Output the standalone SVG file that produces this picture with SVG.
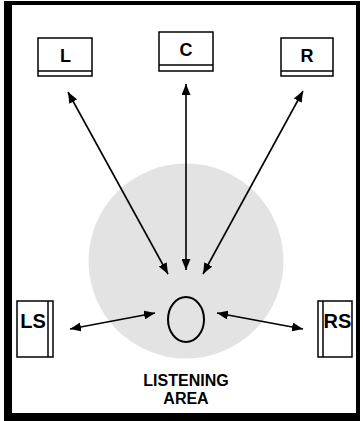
<svg xmlns="http://www.w3.org/2000/svg" width="363" height="421" viewBox="0 0 363 421">
  <defs>
    <marker id="head" viewBox="0 0 11 9" refX="11" refY="4.5" markerWidth="11" markerHeight="9" markerUnits="userSpaceOnUse" orient="auto-start-reverse">
      <path d="M0,0 L11,4.5 L0,9 Z" fill="#000"/>
    </marker>
  </defs>
  <style>
    .spk { fill: #fff; stroke: #000; stroke-width: 1.5; }
    .lbl { font-family: "Liberation Sans", Arial, sans-serif; font-weight: bold; fill: #000; text-anchor: middle; }
    .link { stroke: #000; stroke-width: 1.6; fill: none; marker-start: url(#head); marker-end: url(#head); }
  </style>

  <!-- room frame: heavy left/bottom edges, lighter top/right -->
  <rect x="4" y="1" width="356" height="420" fill="#000"/>
  <rect x="12" y="5" width="344" height="408" fill="#fff"/>

  <!-- listening zone -->
  <circle id="listening-zone" cx="186" cy="261" r="97.5" fill="#e3e3e3"/>

  <g id="speaker-L">
    <rect class="spk" x="38" y="38" width="54" height="38"/>
    <line x1="38" y1="71" x2="92" y2="71" stroke="#000" stroke-width="1.5"/>
    <text class="lbl" x="65.5" y="62" font-size="18">L</text>
  </g>
  <g id="speaker-C">
    <rect class="spk" x="159" y="32" width="54" height="39"/>
    <line x1="159" y1="65" x2="213" y2="65" stroke="#000" stroke-width="1.5"/>
    <text class="lbl" x="186" y="56" font-size="18">C</text>
  </g>
  <g id="speaker-R">
    <rect class="spk" x="281" y="38" width="52" height="38"/>
    <line x1="281" y1="71" x2="333" y2="71" stroke="#000" stroke-width="1.5"/>
    <text class="lbl" x="307" y="62" font-size="18">R</text>
  </g>
  <g id="speaker-LS">
    <rect class="spk" x="17" y="301" width="36" height="56"/>
    <line x1="48" y1="301" x2="48" y2="357" stroke="#000" stroke-width="1.5"/>
    <text class="lbl" x="33" y="328" font-size="20">LS</text>
  </g>
  <g id="speaker-RS">
    <rect class="spk" x="318" y="301" width="34" height="56"/>
    <line x1="323" y1="301" x2="323" y2="357" stroke="#000" stroke-width="1.5"/>
    <text class="lbl" x="337.5" y="328" font-size="20">RS</text>
  </g>

  <g id="listener">
    <ellipse cx="186" cy="319.5" rx="18" ry="22.5" fill="none" stroke="#000" stroke-width="2"/>
    <text class="lbl" x="186" y="386" font-size="16">LISTENING</text>
    <text class="lbl" x="186" y="404" font-size="16">AREA</text>
  </g>

  <g id="connectors">
    <line class="link" x1="68" y1="92" x2="168" y2="274"/>
    <line class="link" x1="186" y1="84" x2="186" y2="270"/>
    <line class="link" x1="303" y1="91" x2="203" y2="274"/>
    <line class="link" x1="70" y1="329" x2="155" y2="313"/>
    <line class="link" x1="217" y1="313" x2="303" y2="329"/>
  </g>
</svg>
